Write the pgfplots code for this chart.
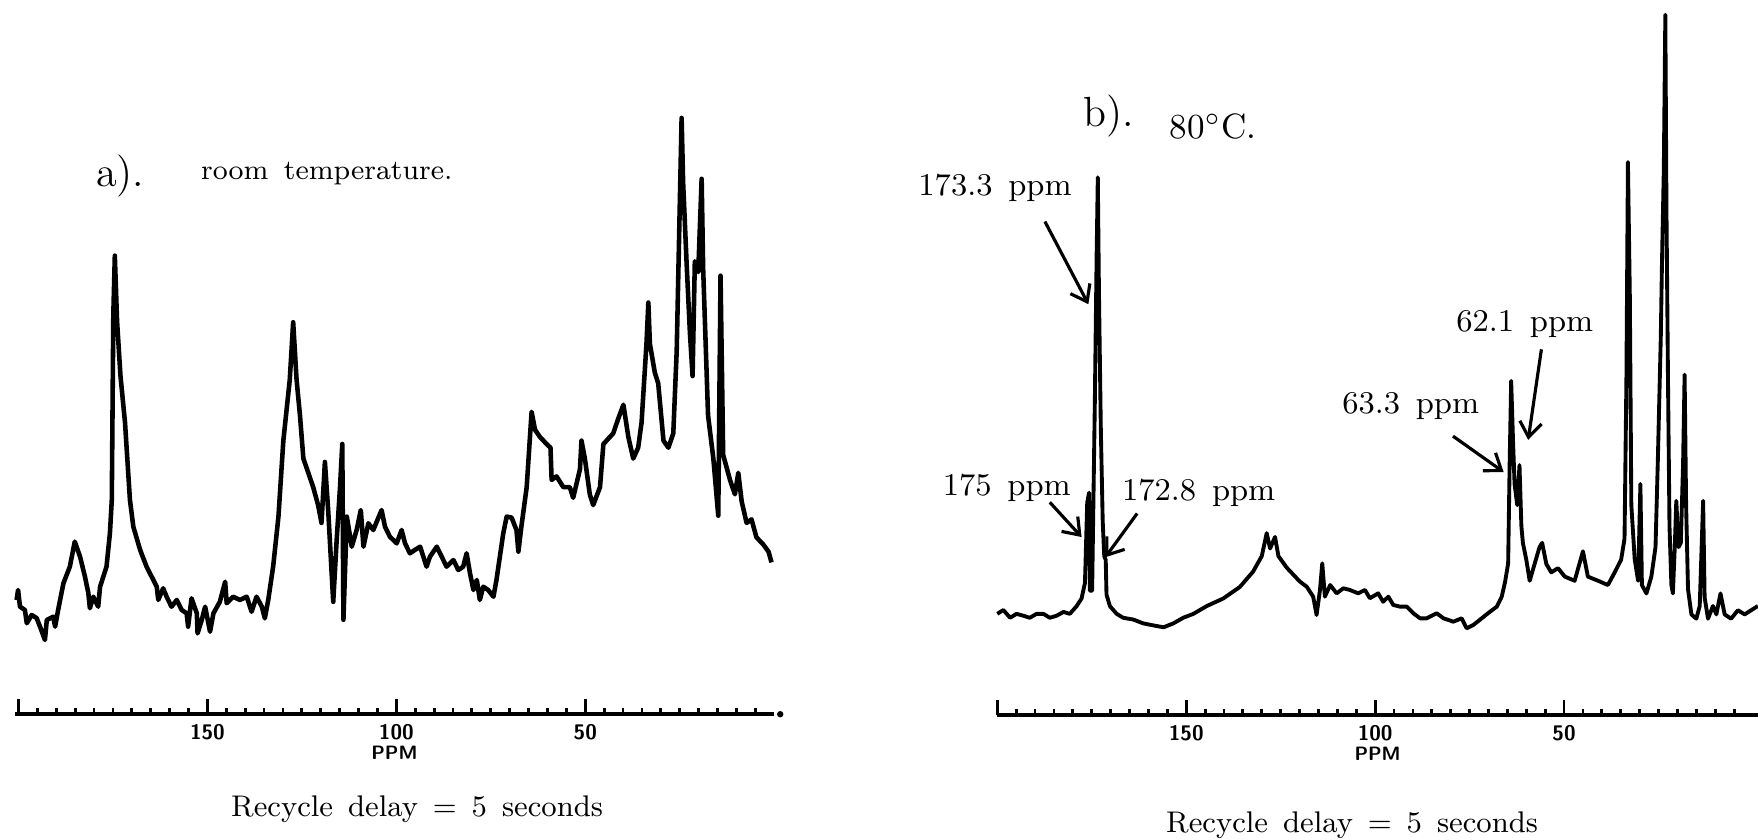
\documentclass[border=0pt]{standalone}
\usepackage{pgfplots}
\pgfplotsset{compat=1.18}
\usepackage{pgfplotstable}
\usetikzlibrary{arrows.meta}

% spectrum a (room temperature): chemical shift (ppm), height above axis
\pgfplotstableread{
ppm v
200.5 101.9
200.1 110.8
199.6 95.9
198.3 93
197.8 81.1
196.5 88.5
195.2 85.8
194.3 78.1
193.0 66.2
192.5 84
190.8 87
190.3 78.1
189.5 93
188.1 116.8
186.4 131.6
185.1 153.9
183.7 140.5
182.4 122.6
181.5 107.8
181.1 94.5
180.2 104.8
178.9 95.9
178.4 113.7
176.7 131.6
175.8 161.3
175.3 191.1
174.9 356
174.5 409
173.9 350
173.0 301.6
171.8 260
170.5 191.1
169.6 167.2
167.8 146.5
166.1 131.6
163.4 113.7
163.0 101.9
161.7 112.3
160.8 104.8
159.5 95.9
158.1 101.9
156.8 93
155.5 90
155.1 78.1
154.2 103.4
152.8 90
152.6 72.1
151.5 84
150.6 95.9
149.3 73.6
148.4 90
146.7 100.3
145.3 118.2
144.9 99
143.2 104.8
141.4 101.9
139.6 104.8
138.3 91.4
137.0 104.8
135.6 95.9
134.8 85.5
133.9 101.9
132.6 131.6
131.2 176.1
129.9 244
128.2 298.4
127.3 349.6
126.4 298.4
125.5 266.5
124.6 228
123.3 215.3
122.0 202.5
120.7 186.5
119.8 170.6
118.9 225
118.0 180
116.7 100.2
115.8 154.6
114.9 202.5
114.3 241
114.0 84.2
113.1 176.2
111.8 149.4
110.5 164.3
109.4 182.1
108.7 149.4
107.4 170.3
106.1 164.3
103.9 182.1
103.0 167.2
101.7 158.3
99.9 152.4
98.6 164.3
97.7 152.4
96.4 143.5
95.1 146.5
93.7 149.4
92.0 131.6
91.1 140.5
89.3 149.4
88.0 140.5
86.7 131.6
84.9 137.5
83.6 128.6
82.3 131.6
81.4 143.5
80.5 125.7
79.6 110.8
78.7 119.7
77.9 101.9
77.0 113.7
75.7 110.8
74.3 104.8
73.5 119.7
72.6 140.5
71.7 161.3
70.8 176.2
69.5 175.4
68.2 164.2
67.7 145
66.9 167.4
65.5 202.5
64.2 269.7
63.3 253.7
62.0 247.3
60.2 240.9
59.2 237.7
58.9 209
57.6 212.1
55.8 202.5
54.1 202.5
53.2 193
51.4 218.5
51.0 244
50.1 228
48.8 196.1
47.9 186.5
46.1 202.5
45.2 240.9
42.6 250.5
41.3 263.3
39.9 276
38.6 247.3
37.3 228
36.0 237.7
35.1 260
33.8 330.4
33.3 367.2
32.9 330.4
31.6 304.8
30.7 295.2
29.3 244
28.0 237.7
26.7 250.5
25.8 324
25.0 452
24.5 531.8
24.1 474.3
23.2 404
22.3 340
21.6 301.6
21.0 404
20.1 394.3
19.2 477.5
18.8 397.5
17.5 266.5
16.1 228
14.8 177
14.2 391.1
13.5 231.3
11.7 209
10.4 196.1
9.5 215.3
8.6 189.7
7.3 170.6
6.0 173.8
4.7 157.8
2.9 151.4
1.5 145
0.7 135.4
}\specA

% spectrum b (80 C)
\pgfplotstableread{
ppm v
200.0 90.5
198.4 93.9
196.6 87
194.9 90.5
193.1 88.8
191.4 87
189.6 90.5
187.8 90.5
186.1 87
184.3 88.8
182.5 92.2
180.8 90.5
179.0 97.4
177.7 104.2
176.8 118
176.2 190
175.7 198.6
175.5 111.1
174.9 111.1
174.2 275.8
173.7 413
173.4 479.9
173.1 378.7
172.6 255.2
172.1 172.8
171.7 142
171.3 138.5
171.1 107.7
170.2 97.4
168.4 90.5
166.7 87
164.0 85.4
161.4 82
158.7 80.2
156.0 78.5
153.4 82
150.8 87
148.1 90.5
144.6 97.4
140.2 104.2
135.8 114.5
132.3 128.2
130.0 142
128.7 162.5
127.8 148.8
126.5 159.1
125.6 142
123.4 131.7
119.9 119.2
118.1 114.7
116.4 105.8
115.5 89.5
114.6 111.8
114.0 135.6
113.3 105.8
111.9 116.2
110.2 108.8
108.4 113.3
106.7 111.8
104.5 108.8
102.7 111.8
101.4 104.4
99.2 108.8
97.9 101.3
96.5 105.8
95.2 98.4
93.4 96.9
91.6 96.9
89.9 91
88.1 86.5
86.4 86.5
83.7 91
81.9 86.5
79.3 83.5
77.1 86.5
75.8 77.6
74.0 80.6
71.8 86.5
69.6 92.4
67.8 96.9
66.5 105.8
65.6 119.2
64.8 135.6
64.4 225.1
64.0 298.3
63.5 243.9
63.1 206.3
62.4 187.5
61.8 223.2
61.3 168.8
60.9 153.8
60.0 138.8
59.1 120
57.8 135
56.5 150
55.8 153.8
54.7 135
53.4 127.5
51.6 131.2
49.8 123.7
47.2 120
45.0 146.3
43.7 123.7
41.0 120
38.4 116.2
36.6 127.5
34.9 138.8
34.0 157.5
33.5 300.2
33.1 493.5
32.6 375.2
32.2 187.5
31.3 138.8
30.4 120
29.8 206.3
29.4 116.2
28.2 108.7
26.9 123.7
25.8 150
25.2 225.1
24.4 337.7
24.1 401.5
23.6 487.8
23.2 624.9
22.9 450.3
22.5 300.2
22.1 168.8
21.6 116.2
21.2 108.7
20.7 150
20.3 191.3
19.7 150
19.1 153.8
18.5 225.1
18.1 303.9
17.7 187.5
17.2 112.5
16.3 90
15.0 86.2
14.1 97.5
13.2 191.3
12.8 105
11.9 86.2
10.6 97.5
9.7 90
8.6 108.7
7.5 90
5.8 86.2
4.0 93.7
2.2 90
0.5 93.7
-1.3 97.5
}\specB

\pgfplotsset{
  nmr/.style={
    scale only axis,
    anchor=south west,
    x dir=reverse,
    axis x line=bottom,
    axis y line=none,
    axis line style={line width=1.1pt,-},
    ymin=0,
    clip=false,
    tick align=inside,
    xtick={200,150,100,50},
    xticklabels={,150,100,50},
    minor xtick={195,190,...,5},
    major tick length=0.15cm,
    minor tick length=0.06cm,
    tick style={line width=0.8pt,black},
    xticklabel style={font=\sffamily\bfseries\fontsize{6}{7}\selectfont, inner sep=1pt, yshift=-0.06cm},
    xlabel={PPM},
    xlabel style={font=\sffamily\bfseries\fontsize{5.5}{6}\selectfont, inner sep=0pt, yshift=-0.02cm},
  },
  spec/.style={black, line width=1.3pt, line join=round, mark=none},
}
\tikzset{
  arr/.style={line width=0.9pt, -{Straight Barb[length=1.5mm,width=2.2mm]}},
  lab/.style={font=\fontsize{9}{10}\selectfont, inner sep=0pt},
}

\begin{document}
\begin{tikzpicture}
\useasboundingbox (0,0) rectangle (17.58cm,8.39cm);

% ---------- panel a ----------
\begin{axis}[nmr, at={(0.147cm,1.248cm)}, width=7.595cm, height=7.142cm,
  xmin=0, xmax=201, ymax=637]
\addplot[spec] table[x=ppm,y=v] {\specA};
\addplot[only marks, mark=*, mark size=0.7pt, black] coordinates {(-1.6,0)};
\node[font=\fontsize{12}{14}\selectfont, inner sep=0pt] at (axis cs:173.1,480) {a).};
\node[font=\fontsize{8}{10}\selectfont, inner sep=0pt] at (axis cs:118.4,482) {room\hspace{0.55em}temperature.};
\node[font=\fontsize{8.5}{10}\selectfont, inner sep=0pt] at (axis cs:94.5,-85) {Recycle\hspace{0.5em}delay\hspace{0.5em}=\hspace{0.5em}5\hspace{0.5em}seconds};
\end{axis}

% ---------- panel b ----------
\begin{axis}[nmr, at={(9.973cm,1.237cm)}, width=7.606cm, height=7.153cm,
  xmin=-1.3, xmax=200, ymax=638]
\addplot[spec, line width=1.1pt] table[x=ppm,y=v] {\specB};
\node[font=\fontsize{12}{14}\selectfont, inner sep=0pt] at (axis cs:170.6,535) {b).};
\node[font=\fontsize{10}{12}\selectfont, inner sep=0pt] at (axis cs:142.9,525) {80$^\circ$C.};
\node[lab] at (axis cs:200.6,470) {173.3\hspace{0.5em}ppm};
\draw[arr] (axis cs:187.4,440.4) -- (axis cs:175.9,366.7);
\node[lab] at (axis cs:197.5,203) {175\hspace{0.5em}ppm};
\draw[arr] (axis cs:186.1,190) -- (axis cs:177.7,159);
\node[lab] at (axis cs:146.7,198) {172.8\hspace{0.5em}ppm};
\draw[arr] (axis cs:163.0,180) -- (axis cs:171.4,141);
\node[lab] at (axis cs:90.6,276) {63.3\hspace{0.5em}ppm};
\draw[arr] (axis cs:79.4,249) -- (axis cs:66.0,217);
\node[lab] at (axis cs:60.4,349) {62.1\hspace{0.5em}ppm};
\draw[arr] (axis cs:56.0,326.4) -- (axis cs:59.5,245.7);
\node[font=\fontsize{8.5}{10}\selectfont, inner sep=0pt] at (axis cs:106.1,-98) {Recycle\hspace{0.5em}delay\hspace{0.5em}=\hspace{0.5em}5\hspace{0.5em}seconds};
\end{axis}
\end{tikzpicture}
\end{document}
